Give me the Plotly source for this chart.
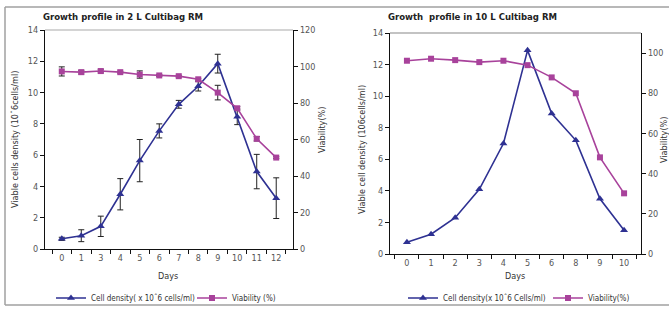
import plotly.graph_objects as go

# ---- Left chart: 2 L Cultibag RM ----
days_2l = ["0", "1", "3", "4", "5", "6", "7", "8", "9", "10", "11", "12"]
density_2l = [0.65, 0.85, 1.45, 3.5, 5.65, 7.55, 9.25, 10.4, 11.85, 8.45, 4.95, 3.25]
density_err_2l = [0.1, 0.38, 0.65, 1.0, 1.35, 0.45, 0.25, 0.3, 0.6, 0.5, 1.1, 1.3]
viability_2l = [97.3, 96.9, 97.5, 96.9, 95.6, 95.1, 94.7, 93.0, 85.7, 77.1, 60.4, 50.1]
viability_err_2l = [2.5, 1.0, 1.0, 0.5, 2.0, 0.5, 0.5, 0.5, 4.0, 1.0, 1.2, 0.5]

# ---- Right chart: 10 L Cultibag RM ----
days_10l = ["0", "1", "2", "3", "4", "5", "6", "8", "9", "10"]
density_10l = [0.75, 1.25, 2.3, 4.1, 7.0, 12.9, 8.9, 7.2, 3.5, 1.5]
viability_10l = [96.2, 97.2, 96.5, 95.5, 96.2, 94.0, 87.9, 80.0, 48.1, 30.2]

density_ticks = [0, 2, 4, 6, 8, 10, 12, 14]
viab_ticks_2l = [0, 20, 40, 60, 80, 100, 120]
viab_ticks_10l = [0, 20, 40, 60, 80, 100]

BLUE = "#2E3192"
MAG = "#A8429B"
FONT = "DejaVu Sans Condensed, Liberation Sans Narrow, sans-serif"
W, H = 669, 309

def px_x(p):
    return p / W

def px_y(p):
    return 1 - p / H

fig = go.Figure()

err_style = dict(type="data", color="#222222", thickness=1, width=3, visible=True)

fig.add_trace(go.Scatter(
    x=days_2l, y=density_2l, xaxis="x", yaxis="y",
    mode="lines+markers", name="Cell density( x 10ˆ6 cells/ml)",
    line=dict(color=BLUE, width=1.6),
    marker=dict(symbol="triangle-up", size=7, color=BLUE),
    error_y=dict(array=density_err_2l, **err_style),
    legend="legend",
))
fig.add_trace(go.Scatter(
    x=days_2l, y=viability_2l, xaxis="x", yaxis="y2",
    mode="lines+markers", name="Viability (%)",
    line=dict(color=MAG, width=1.6),
    marker=dict(symbol="square", size=6, color=MAG),
    error_y=dict(array=viability_err_2l, **err_style),
    legend="legend",
))
fig.add_trace(go.Scatter(
    x=days_10l, y=density_10l, xaxis="x2", yaxis="y3",
    mode="lines+markers", name="Cell density(x 10ˆ6 Cells/ml)",
    line=dict(color=BLUE, width=1.6),
    marker=dict(symbol="triangle-up", size=7, color=BLUE),
    legend="legend2",
))
fig.add_trace(go.Scatter(
    x=days_10l, y=viability_10l, xaxis="x2", yaxis="y4",
    mode="lines+markers", name="Viability(%)",
    line=dict(color=MAG, width=1.6),
    marker=dict(symbol="square", size=6, color=MAG),
    legend="legend2",
))

tickfont = dict(family=FONT, size=9, color="#555555")
axis_common = dict(showline=True, linecolor="#111111", linewidth=1.2, showgrid=False,
                   zeroline=False, ticks="outside", ticklen=4, tickcolor="#111111",
                   tickfont=tickfont, tickangle=0, automargin=False)

L_x0, L_x1, L_y0, L_y1 = 45, 293, 30, 249
R_x0, R_x1, R_y0, R_y1 = 390, 641, 33, 254

leg_font = dict(family=FONT, size=8, color="#333333")

fig.update_layout(
    width=W, height=H, autosize=False,
    margin=dict(l=0, r=0, t=0, b=0, pad=0, autoexpand=False),
    paper_bgcolor="white", plot_bgcolor="white",
    font=dict(family=FONT, size=9, color="#333333"),
    xaxis=dict(domain=[px_x(L_x0), px_x(L_x1)], anchor="y", type="category",
               categoryorder="array", categoryarray=days_2l,
               tickson="boundaries", **axis_common),
    yaxis=dict(domain=[px_y(L_y1), px_y(L_y0)], anchor="x", range=[0, 14],
               tickvals=density_ticks, **axis_common),
    yaxis2=dict(overlaying="y", side="right", anchor="x", range=[0, 120],
                tickvals=viab_ticks_2l, **axis_common),
    xaxis2=dict(domain=[px_x(R_x0), px_x(R_x1)], anchor="y3", type="category",
                categoryorder="array", categoryarray=days_10l,
                tickson="boundaries", **axis_common),
    yaxis3=dict(domain=[px_y(R_y1), px_y(R_y0)], anchor="x2", range=[0, 14],
                tickvals=density_ticks, **axis_common),
    yaxis4=dict(overlaying="y3", side="right", anchor="x2", range=[0, 110],
                tickvals=viab_ticks_10l, **axis_common),
    legend=dict(orientation="h", x=px_x(51), y=px_y(298), xanchor="left", yanchor="middle",
                font=leg_font, bgcolor="rgba(0,0,0,0)", itemwidth=30, tracegroupgap=0,
                entrywidth=96, entrywidthmode="pixels"),
    legend2=dict(orientation="h", x=px_x(403), y=px_y(298), xanchor="left", yanchor="middle",
                 font=leg_font, bgcolor="rgba(0,0,0,0)", itemwidth=30, tracegroupgap=0,
                 entrywidth=100, entrywidthmode="pixels"),
    showlegend=True,
)

shapes = [
    # outer frame
    dict(type="line", xref="paper", yref="paper", x0=px_x(5), x1=1, y0=px_y(7), y1=px_y(7),
         line=dict(color="#A0A0A0", width=1.5)),
    dict(type="line", xref="paper", yref="paper", x0=px_x(5), x1=px_x(5), y0=px_y(7), y1=px_y(305),
         line=dict(color="#A0A0A0", width=1.5)),
    dict(type="line", xref="paper", yref="paper", x0=px_x(5), x1=1, y0=px_y(305), y1=px_y(305),
         line=dict(color="#A0A0A0", width=1.5)),
    # top borders of plot areas
    dict(type="line", xref="paper", yref="paper", x0=px_x(L_x0), x1=px_x(L_x1),
         y0=px_y(L_y0), y1=px_y(L_y0), line=dict(color="#AAAAAA", width=1.2)),
    dict(type="line", xref="paper", yref="paper", x0=px_x(R_x0), x1=px_x(R_x1),
         y0=px_y(R_y0), y1=px_y(R_y0), line=dict(color="#888888", width=1.2)),
]
fig.update_layout(shapes=shapes)

ann_font = dict(family=FONT, size=9, color="#333333")
title_font = dict(family=FONT, size=9.5, color="#222222")
annotations = [
    dict(text="<b>Growth profile in 2 L Cultibag RM</b>", x=px_x(123), y=px_y(16),
         font=title_font),
    dict(text="<b>Growth  profile in 10 L Cultibag RM</b>", x=px_x(472), y=px_y(16),
         font=title_font),
    dict(text="Viable cells density (10ˆ6cells/ml)", x=px_x(15), y=px_y(140),
         textangle=-90, font=ann_font),
    dict(text="Viability(%)", x=px_x(322), y=px_y(130), textangle=-90, font=ann_font),
    dict(text="Viable cell density (106cells/ml)", x=px_x(362), y=px_y(150),
         textangle=-90, font=ann_font),
    dict(text="Viability(%)", x=px_x(664), y=px_y(140), textangle=-90, font=ann_font),
    dict(text="Days", x=px_x(168), y=px_y(276), font=ann_font),
    dict(text="Days", x=px_x(515), y=px_y(276), font=ann_font),
]
for a in annotations:
    a.update(xref="paper", yref="paper", showarrow=False, xanchor="center", yanchor="middle")
fig.update_layout(annotations=annotations)

fig.write_html("out.html",
               config={"displayModeBar": False, "responsive": False},
               post_script="document.body.style.margin='0';document.body.style.overflow='hidden';")
